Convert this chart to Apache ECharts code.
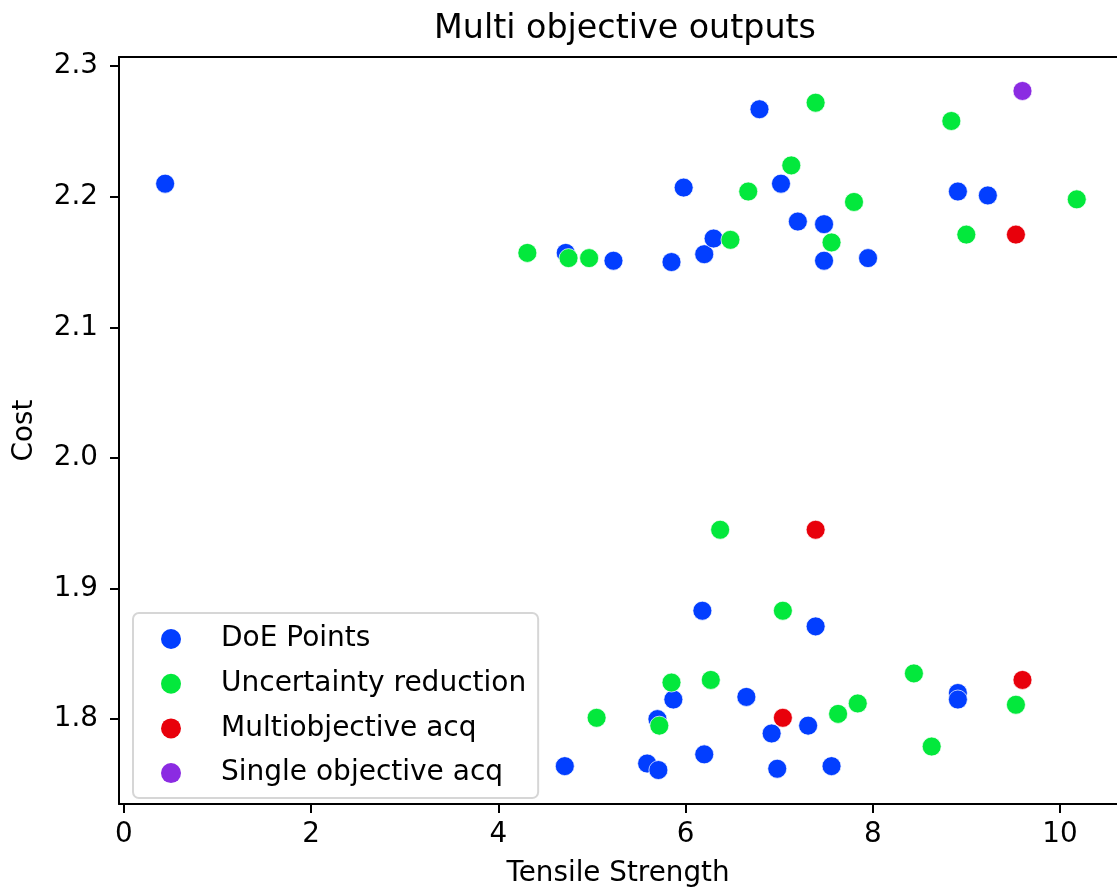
<!DOCTYPE html>
<html>
<head>
<meta charset="utf-8">
<script src="https://cdn.jsdelivr.net/npm/echarts@6/dist/echarts.min.js"></script>
<style>
html,body{margin:0;padding:0;background:#fff;}
#chart{width:1117px;height:893px;}
</style>
</head>
<body>
<div id="chart"></div>
<script>
// ---- data ----
var seriesNames = ['DoE Points', 'Uncertainty reduction', 'Multiobjective acq', 'Single objective acq'];
var seriesColors = ['#023eff', '#03e83c', '#e8000b', '#8b2be2'];

var doeX = [0.44, 4.72, 5.23, 5.85, 5.98, 6.20, 6.30, 6.79, 7.02, 7.20, 7.48, 7.48, 7.95, 8.91, 9.23,
            6.18, 7.39, 5.87, 6.65, 8.91, 8.91, 5.70, 7.31, 6.92, 6.20, 4.71, 5.59, 5.71, 6.98, 7.56];
var doeY = [2.210, 2.157, 2.151, 2.150, 2.207, 2.156, 2.168, 2.267, 2.210, 2.181, 2.179, 2.151, 2.153, 2.204, 2.201,
            1.883, 1.871, 1.815, 1.817, 1.820, 1.815, 1.800, 1.795, 1.789, 1.773, 1.764, 1.766, 1.761, 1.762, 1.764];

var uncX = [4.31, 4.75, 4.97, 6.48, 6.67, 7.13, 7.39, 7.56, 7.80, 8.84, 9.00, 10.18,
            6.37, 7.04, 8.44, 6.27, 5.85, 9.53, 7.84, 7.63, 5.05, 5.72, 8.63];
var uncY = [2.157, 2.153, 2.153, 2.167, 2.204, 2.224, 2.272, 2.165, 2.196, 2.258, 2.171, 2.198,
            1.945, 1.883, 1.835, 1.830, 1.828, 1.811, 1.812, 1.804, 1.801, 1.795, 1.779];

var multiX = [9.53, 7.39, 9.60, 7.04];
var multiY = [2.171, 1.945, 1.830, 1.801];

var singleX = [9.60];
var singleY = [2.281];

var xTicks = [0, 2, 4, 6, 8, 10];
var yTicks = [1.8, 1.9, 2.0, 2.1, 2.2, 2.3];

var titleText = 'Multi objective outputs';
var xName = 'Tensile Strength';
var yName = 'Cost';

// ---- chart ----
function pairs(xs, ys) { return xs.map(function (x, i) { return [x, ys[i]]; }); }

var FONT = 'DejaVu Sans';
var chart = echarts.init(document.getElementById('chart'), null, { renderer: 'canvas' });

var xsList = [doeX, uncX, multiX, singleX];
var ysList = [doeY, uncY, multiY, singleY];

var X_MIN = -0.053, X_MAX = 10.61;

var series = seriesNames.map(function (name, i) {
  return {
    name: name,
    type: 'scatter',
    xAxisIndex: 0,
    data: pairs(xsList[i], ysList[i]),
    symbol: 'circle',
    symbolSize: 19,
    itemStyle: { color: seriesColors[i], borderColor: 'rgba(255,255,255,0.7)', borderWidth: 1, opacity: 1 },
    emphasis: { disabled: true },
    animation: false
  };
});

var lineStyle = { color: '#000', width: 2 };
var nameStyle = { fontFamily: FONT, fontSize: 27.8, color: '#000' };

var option = {
  backgroundColor: '#fff',
  animation: false,
  title: {
    text: titleText,
    left: 620,
    textAlign: 'center',
    top: 8,
    textStyle: { fontFamily: FONT, fontSize: 33.3, fontWeight: 'normal', color: '#000' }
  },
  grid: { left: 119, top: 57, right: 0, bottom: 89, show: false },
  legend: {
    orient: 'vertical',
    left: 133, top: 613,
    data: seriesNames,
    icon: 'circle',
    itemWidth: 20, itemHeight: 20,
    itemGap: 16.7,
    padding: [12, 12, 11, 28],
    backgroundColor: 'rgba(255,255,255,0.8)',
    borderColor: '#d6d6d6', borderWidth: 2, borderRadius: 6,
    selectedMode: false,
    itemStyle: { borderWidth: 0 },
    textStyle: { fontFamily: FONT, fontSize: 28, color: '#000', lineHeight: 26, padding: [0, 0, 0, 35] }
  },
  xAxis: [{
    type: 'value', position: 'bottom',
    min: X_MIN, max: X_MAX,
    name: xName, nameLocation: 'middle', nameGap: 56, nameTextStyle: nameStyle,
    axisLine: { show: true, onZero: false, lineStyle: lineStyle },
    axisTick: { show: true, inside: false, length: 9, lineStyle: lineStyle, customValues: xTicks },
    axisLabel: { customValues: xTicks, margin: 17, fontFamily: FONT, fontSize: 27.8, color: '#000',
                 formatter: function (v) { return String(Math.round(v)); } },
    splitLine: { show: false }
  }, {
    type: 'value', position: 'top',
    min: X_MIN, max: X_MAX,
    axisLine: { show: true, onZero: false, lineStyle: lineStyle },
    axisTick: { show: false }, axisLabel: { show: false }, splitLine: { show: false }
  }],
  yAxis: {
    type: 'value',
    min: 1.735, max: 2.307,
    name: yName, nameLocation: 'middle', nameGap: 80, nameRotate: 90, nameTextStyle: nameStyle,
    axisLine: { show: true, onZero: false, lineStyle: lineStyle },
    axisTick: { show: true, inside: false, length: 9, lineStyle: lineStyle, customValues: yTicks },
    axisLabel: { customValues: yTicks, margin: 21, fontFamily: FONT, fontSize: 27.8, color: '#000',
                 formatter: function (v) { return v.toFixed(1); } },
    splitLine: { show: false }
  },
  series: series
};

chart.setOption(option);
</script>
</body>
</html>
